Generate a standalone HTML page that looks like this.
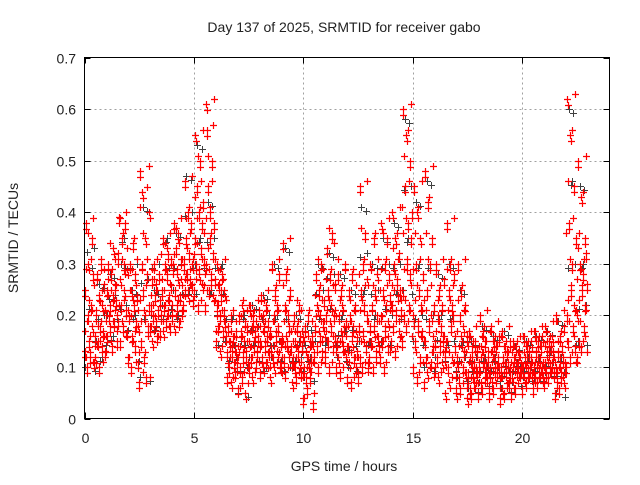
<!DOCTYPE html>
<html><head><meta charset="utf-8"><style>
body{margin:0;background:#fff;width:640px;height:480px;overflow:hidden;font-family:"Liberation Sans",sans-serif}
svg text{font-family:"Liberation Sans",sans-serif;font-size:14px;fill:#222}
</style></head><body>
<svg id="chart" width="640" height="480">
<text x="344" y="32" text-anchor="middle">Day 137 of 2025, SRMTID for receiver gabo</text>
<text x="344" y="471" text-anchor="middle">GPS time / hours</text>
<text transform="translate(18,238) rotate(-90)" text-anchor="middle">SRMTID / TECUs</text>
<g id="grid"></g><g id="ticks"></g><g id="grey"></g><g id="red"></g>
<rect x="84.5" y="57.5" width="525" height="361" fill="none" stroke="#000"/>
</svg>
<script>
const xTicks=[0,5,10,15,20];
const yTicks=[0,0.1,0.2,0.3,0.4,0.5,0.6,0.7];
const yTickLabels=["0","0.1","0.2","0.3","0.4","0.5","0.6","0.7"];
const binStarts=[0,0.5,1,1.5,2,2.5,3,3.5,4,4.5,5,5.5,6,6.5,7,7.5,8,8.5,9,9.5,10,10.5,11,11.5,12,12.5,13,13.5,14,14.5,15,15.5,16,16.5,17,17.5,18,18.5,19,19.5,20,20.5,21,21.5,22,22.5];
const redValues=[
[0.13,0.25,0.38,0.1,0.2,0.3,0.15,0.12,0.22,0.35,0.18,0.28,0.11,0.16],
[0.12,0.2,0.28,0.15,0.1,0.24,0.18,0.3,0.14,0.22,0.17,0.26,0.13,0.2],
[0.16,0.25,0.3,0.2,0.22,0.18,0.28,0.14,0.24,0.33,0.19,0.26,0.23,0.15],
[0.2,0.32,0.39,0.15,0.27,0.22,0.35,0.18,0.3,0.25,0.38,0.21,0.17,0.29],
[0.12,0.2,0.3,0.1,0.25,0.16,0.34,0.22,0.14,0.28,0.19,0.24,0.11,0.18],
[0.07,0.48,0.15,0.3,0.44,0.25,0.12,0.2,0.35,0.08,0.28,0.18,0.22,0.4],
[0.18,0.22,0.27,0.15,0.2,0.3,0.24,0.19,0.26,0.16,0.21,0.28,0.23,0.17],
[0.2,0.25,0.35,0.17,0.22,0.3,0.19,0.28,0.33,0.21,0.24,0.18,0.26,0.31],
[0.2,0.3,0.38,0.18,0.25,0.33,0.22,0.28,0.36,0.19,0.24,0.31,0.27,0.21],
[0.22,0.3,0.46,0.25,0.35,0.28,0.4,0.24,0.32,0.27,0.38,0.26,0.3,0.23],
[0.25,0.35,0.55,0.3,0.45,0.22,0.4,0.28,0.5,0.33,0.38,0.26,0.42,0.31],
[0.22,0.3,0.61,0.56,0.45,0.25,0.35,0.4,0.28,0.5,0.32,0.24,0.38,0.27],
[0.15,0.22,0.3,0.18,0.26,0.2,0.13,0.24,0.28,0.17,0.21,0.25,0.19,0.16],
[0.08,0.12,0.18,0.1,0.15,0.2,0.07,0.13,0.16,0.11,0.14,0.09,0.17,0.12],
[0.06,0.14,0.2,0.1,0.17,0.08,0.22,0.12,0.15,0.19,0.05,0.13,0.18,0.11],
[0.1,0.15,0.22,0.12,0.18,0.08,0.2,0.14,0.17,0.11,0.19,0.13,0.16,0.21],
[0.09,0.15,0.24,0.12,0.2,0.1,0.18,0.14,0.22,0.16,0.11,0.19,0.13,0.17],
[0.08,0.14,0.3,0.12,0.2,0.1,0.25,0.16,0.22,0.13,0.18,0.28,0.11,0.15],
[0.1,0.16,0.34,0.12,0.22,0.09,0.28,0.15,0.2,0.13,0.18,0.25,0.14,0.11],
[0.07,0.12,0.2,0.1,0.15,0.08,0.18,0.13,0.22,0.11,0.16,0.09,0.14,0.17],
[0.04,0.1,0.18,0.08,0.13,0.06,0.2,0.11,0.15,0.09,0.12,0.16,0.03,0.14],
[0.12,0.18,0.28,0.14,0.22,0.1,0.25,0.16,0.2,0.3,0.13,0.19,0.23,0.17],
[0.12,0.2,0.33,0.15,0.25,0.1,0.28,0.18,0.22,0.36,0.14,0.2,0.26,0.16],
[0.1,0.15,0.28,0.12,0.2,0.09,0.25,0.16,0.22,0.14,0.18,0.3,0.13,0.19],
[0.08,0.14,0.25,0.11,0.2,0.07,0.28,0.15,0.18,0.12,0.22,0.1,0.17,0.13],
[0.08,0.18,0.45,0.12,0.25,0.1,0.3,0.16,0.22,0.36,0.14,0.2,0.27,0.11],
[0.12,0.18,0.3,0.15,0.22,0.1,0.35,0.17,0.25,0.13,0.2,0.28,0.16,0.14],
[0.12,0.2,0.38,0.15,0.25,0.1,0.3,0.17,0.22,0.35,0.14,0.19,0.28,0.24],
[0.15,0.22,0.4,0.18,0.3,0.13,0.35,0.2,0.27,0.24,0.32,0.17,0.25,0.21],
[0.15,0.25,0.6,0.2,0.45,0.18,0.55,0.3,0.38,0.22,0.5,0.28,0.35,0.4],
[0.1,0.2,0.45,0.15,0.3,0.08,0.4,0.18,0.25,0.12,0.35,0.22,0.17,0.28],
[0.07,0.15,0.48,0.12,0.25,0.09,0.42,0.18,0.3,0.11,0.2,0.35,0.14,0.22],
[0.1,0.15,0.3,0.12,0.2,0.08,0.25,0.14,0.18,0.22,0.11,0.16,0.27,0.13],
[0.05,0.15,0.38,0.1,0.25,0.07,0.3,0.18,0.22,0.12,0.2,0.28,0.14,0.09],
[0.05,0.12,0.3,0.08,0.2,0.06,0.25,0.15,0.1,0.18,0.13,0.22,0.09,0.16],
[0.04,0.08,0.17,0.06,0.12,0.05,0.14,0.09,0.11,0.07,0.15,0.1,0.13,0.08],
[0.05,0.1,0.2,0.07,0.14,0.06,0.17,0.12,0.09,0.15,0.11,0.08,0.13,0.1],
[0.05,0.09,0.18,0.07,0.13,0.06,0.15,0.11,0.08,0.14,0.1,0.12,0.16,0.09],
[0.04,0.09,0.17,0.06,0.12,0.05,0.14,0.1,0.08,0.13,0.11,0.07,0.15,0.09],
[0.05,0.09,0.15,0.07,0.12,0.06,0.14,0.1,0.08,0.11,0.13,0.09,0.12,0.1],
[0.06,0.1,0.16,0.08,0.12,0.07,0.14,0.11,0.09,0.13,0.1,0.12,0.15,0.09],
[0.06,0.1,0.17,0.08,0.13,0.07,0.15,0.11,0.09,0.12,0.14,0.1,0.16,0.08],
[0.07,0.11,0.18,0.09,0.13,0.08,0.15,0.12,0.1,0.14,0.11,0.16,0.13,0.09],
[0.05,0.1,0.2,0.07,0.13,0.06,0.16,0.11,0.09,0.14,0.12,0.08,0.18,0.1],
[0.1,0.2,0.62,0.15,0.38,0.12,0.55,0.25,0.3,0.18,0.45,0.22,0.14,0.35],
[0.12,0.2,0.5,0.15,0.3,0.14,0.43,0.25,0.28,0.18,0.35,0.22,0.32,0.26]
];
const greyValues=[
[0.1,0.3,0.22,0.33],[0.15,0.26,0.12,0.2],[0.2,0.28,0.16,0.24],[0.18,0.3,0.35,0.22],
[0.12,0.25,0.2,0.3],[0.08,0.41,0.2,0.27],[0.2,0.25,0.18,0.3],[0.22,0.3,0.35,0.2],
[0.25,0.36,0.2,0.3],[0.3,0.47,0.25,0.4],[0.3,0.53,0.35,0.25],[0.3,0.42,0.25,0.35],
[0.2,0.25,0.3,0.15],[0.1,0.15,0.2,0.12],[0.05,0.15,0.2,0.1],[0.12,0.22,0.15,0.18],
[0.15,0.24,0.1,0.2],[0.12,0.3,0.2,0.15],[0.12,0.33,0.2,0.1],[0.1,0.2,0.15,0.12],
[0.08,0.18,0.12,0.15],[0.15,0.3,0.2,0.25],[0.15,0.32,0.22,0.28],[0.12,0.28,0.2,0.17],
[0.1,0.25,0.18,0.14],[0.15,0.41,0.25,0.32],[0.15,0.3,0.2,0.25],[0.15,0.35,0.22,0.3],
[0.2,0.38,0.25,0.3],[0.25,0.58,0.35,0.45],[0.15,0.42,0.3,0.2],[0.1,0.46,0.3,0.2],
[0.12,0.28,0.2,0.16],[0.1,0.3,0.2,0.15],[0.08,0.25,0.15,0.12],[0.06,0.15,0.1,0.12],
[0.07,0.18,0.12,0.1],[0.08,0.16,0.12,0.1],[0.06,0.17,0.11,0.09],[0.07,0.14,0.11,0.1],
[0.08,0.15,0.12,0.1],[0.08,0.16,0.12,0.1],[0.09,0.17,0.13,0.11],[0.05,0.19,0.12,0.09],
[0.15,0.6,0.46,0.3],[0.15,0.45,0.3,0.22]
];
const X0=84.5,X1=609.5,Y0=418.5,Y1=57.5,XMAX=24,YMAX=0.7;
function xs(h){return X0+(X1-X0)*h/XMAX;}
function ys(v){return Y0-(Y0-Y1)*v/YMAX;}
const NS="http://www.w3.org/2000/svg";
function mk(tag,attrs,parent){const e=document.createElementNS(NS,tag);for(const k in attrs)e.setAttribute(k,attrs[k]);parent.appendChild(e);return e;}
const grid=document.getElementById('grid'),ticks=document.getElementById('ticks');
xTicks.forEach(t=>{const x=Math.round(xs(t))+0.5;
 if(t>0){const g=mk('line',{x1:x,x2:x,y1:Y1,y2:Y0,stroke:'#a0a0a0','stroke-dasharray':'2,3'},grid);
 
 }
 mk('line',{x1:x,x2:x,y1:Y0,y2:Y0-6,stroke:'#000'},ticks);mk('line',{x1:x,x2:x,y1:Y1,y2:Y1+6,stroke:'#000'},ticks);
 const l=mk('text',{x:x,y:443,'text-anchor':'middle'},ticks);l.textContent=String(t);
 
 });
yTicks.forEach((t,i)=>{const y=Math.round(ys(t))+0.5;
 if(t>0&&t<YMAX){const g=mk('line',{x1:X0,x2:X1,y1:y,y2:y,stroke:'#a0a0a0','stroke-dasharray':'2,3'},grid);
 
 }
 mk('line',{x1:X0,x2:X0+6,y1:y,y2:y,stroke:'#000'},ticks);mk('line',{x1:X1,x2:X1-6,y1:y,y2:y,stroke:'#000'},ticks);
 const l=mk('text',{x:76,y:y+5,'text-anchor':'end'},ticks);l.textContent=yTickLabels[i];
 
 });
function crosses(vals,off,rev,dy){let d='';
 vals.forEach((arr,b)=>{const a=rev?arr.slice().reverse():arr;a.forEach((v,j)=>{const h=binStarts[b]+0.5*(j+off)/a.length;
  const x=Math.round(xs(h))+0.5,y=Math.round(ys(v)+dy)+0.5;d+=`M${x-3.5} ${y}h7M${x} ${y-3.5}v7`;});});
 return d;}
function plot(d,gid,color,name,w){
 const p=mk('path',{d:d,stroke:color,'stroke-width':w,fill:'none'},document.getElementById(gid));
 
 }
plot(crosses(greyValues,0.3,false,0)+crosses(greyValues,0.8,true,4),'grey','#404040','grey-series-points',1);
plot(crosses(redValues,0,false,0)+crosses(redValues,0.5,true,-5)+crosses(redValues,0.25,false,6),'red','#ff0000','red-series-points',1.2);
</script>
</body></html>
